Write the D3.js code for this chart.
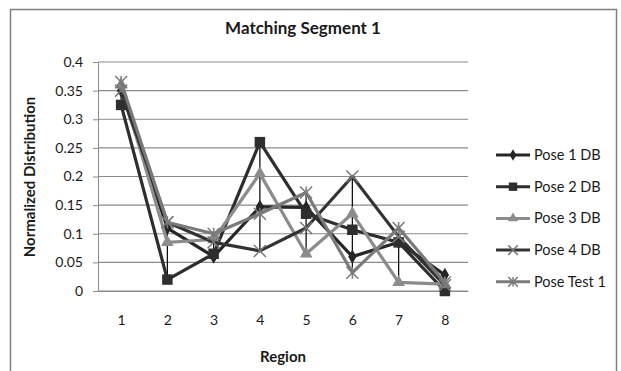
<!DOCTYPE html>
<html lang="en">
<head>
<meta charset="utf-8">
<title>Matching Segment 1</title>
<script src="https://d3js.org/d3.v7.min.js"></script>
<style>
  body { margin: 0; background: #fff; }
  text { font-family: Lato, "Open Sans", sans-serif; fill: #1a1a1a; }
</style>
</head>
<body>
<svg id="chart" width="621" height="371"></svg>
<script>
// data
let regions = [1, 2, 3, 4, 5, 6, 7, 8];
let yTicks = [0, 0.05, 0.1, 0.15, 0.2, 0.25, 0.3, 0.35, 0.4];
let pose1 = [0.35, 0.11, 0.06, 0.147, 0.146, 0.06, 0.085, 0.028];
let pose2 = [0.325, 0.02, 0.065, 0.26, 0.135, 0.107, 0.085, 0];
let pose3 = [0.36, 0.085, 0.09, 0.205, 0.065, 0.135, 0.015, 0.012];
let pose4 = [0.35, 0.12, 0.085, 0.07, 0.11, 0.2, 0.095, 0.01];
let poseTest = [0.365, 0.12, 0.1, 0.135, 0.172, 0.032, 0.11, 0.015];

let series = [
    {name: 'Pose 1 DB', values: pose1, color: '#262626', marker: 'diamond', size: 60},
    {name: 'Pose 2 DB', values: pose2, color: '#2e2e2e', marker: 'square', size: 110},
    {name: 'Pose 3 DB', values: pose3, color: '#8c8c8c', marker: 'triangle', size: 70},
    {name: 'Pose 4 DB', values: pose4, color: '#333333', marker: 'x', size: 0},
    {name: 'Pose Test 1', values: poseTest, color: '#7a7a7a', marker: 'star', size: 0}
];

let svg = d3.select('#chart');
let plotLeft = 98, plotRight = 468, plotTop = 62, plotBottom = 291;

// outer frame
svg.append('rect')
    .attr('x', 10.5).attr('y', 9.5)
    .attr('width', 606).attr('height', 370)
    .attr('fill', 'none').attr('stroke', '#7f7f7f').attr('stroke-width', 1.5);

let x = d3.scalePoint().domain(regions).range([plotLeft, plotRight]).padding(0.5);
let y = d3.scaleLinear().domain([0, 0.4]).range([plotBottom, plotTop]);

// gridlines
svg.append('g').selectAll('line').data(yTicks).join('line')
    .attr('x1', plotLeft).attr('x2', plotRight)
    .attr('y1', d => y(d)).attr('y2', d => y(d))
    .attr('stroke', '#8a8a8a').attr('stroke-width', 1.2);

// y axis
let yAxis = svg.append('g')
    .attr('transform', `translate(${plotLeft},0)`)
    .call(d3.axisLeft(y).tickValues(yTicks).tickSize(5).tickPadding(10).tickFormat(d => String(d)));
yAxis.select('.domain').attr('stroke', '#8a8a8a');
yAxis.selectAll('.tick line').attr('stroke', '#8a8a8a');
yAxis.selectAll('text').style('font-size', '14px').style('font-family', 'Lato, sans-serif').attr('fill', '#1a1a1a');

// x axis
let xAxis = svg.append('g')
    .attr('transform', `translate(0,${plotBottom})`)
    .call(d3.axisBottom(x).tickSize(0).tickPadding(24));
xAxis.select('.domain').attr('stroke', '#8a8a8a');
xAxis.selectAll('text').style('font-size', '14px').style('font-family', 'Lato, sans-serif').attr('fill', '#1a1a1a');

// high-low lines
svg.append('g').selectAll('line').data(regions).join('line')
    .attr('x1', d => x(d)).attr('x2', d => x(d))
    .attr('y1', (d, i) => y(d3.max(series, s => s.values[i])))
    .attr('y2', (d, i) => y(d3.min(series, s => s.values[i])))
    .attr('stroke', '#111').attr('stroke-width', 1.3);

let line = d3.line()
    .x((d, i) => x(regions[i]))
    .y(d => y(d));

function drawMarker(g, s, cx, cy, scale) {
    if (s.marker == 'x' || s.marker == 'star') {
        let r = 6 * scale;
        let p = `M${cx - r},${cy - r}L${cx + r},${cy + r}M${cx - r},${cy + r}L${cx + r},${cy - r}`;
        if (s.marker == 'star') p += `M${cx},${cy - r}L${cx},${cy + r}`;
        g.append('path').attr('d', p).attr('stroke', s.marker == 'x' ? '#777' : s.color)
            .attr('stroke-width', 1.5).attr('fill', 'none');
    } else {
        let type = {diamond: d3.symbolDiamond, square: d3.symbolSquare, triangle: d3.symbolTriangle}[s.marker];
        g.append('path')
            .attr('d', d3.symbol().type(type).size(s.size * scale * scale)())
            .attr('transform', `translate(${cx},${cy})`)
            .attr('fill', s.color);
    }
}

series.forEach(s => {
    let g = svg.append('g');
    g.append('path').datum(s.values)
        .attr('d', line)
        .attr('fill', 'none')
        .attr('stroke', s.color)
        .attr('stroke-width', 3.2)
        .attr('stroke-linejoin', 'round');
    s.values.forEach((v, i) => drawMarker(g, s, x(regions[i]), y(v), 1));
});

// legend
let legend = svg.append('g');
series.forEach((s, i) => {
    let ly = 155 + i * 31.7;
    let g = legend.append('g');
    g.append('line').attr('x1', 496).attr('x2', 530).attr('y1', ly).attr('y2', ly)
        .attr('stroke', s.color).attr('stroke-width', 3);
    drawMarker(g, s, 513, ly, 0.8);
    g.append('text').attr('x', 534).attr('y', ly + 5)
        .style('font-size', '14.5px').text(s.name);
});

// titles
svg.append('text').attr('x', 303).attr('y', 34).attr('text-anchor', 'middle')
    .style('font-size', '17px').style('font-weight', 'bold').text('Matching Segment 1');
svg.append('text').attr('x', 283).attr('y', 362).attr('text-anchor', 'middle')
    .style('font-size', '15px').style('font-weight', 'bold').text('Region');
svg.append('text').attr('transform', 'translate(35,177) rotate(-90)').attr('text-anchor', 'middle')
    .style('font-size', '15px').style('font-weight', 'bold').text('Normalized Distribution');
</script>
</body>
</html>
